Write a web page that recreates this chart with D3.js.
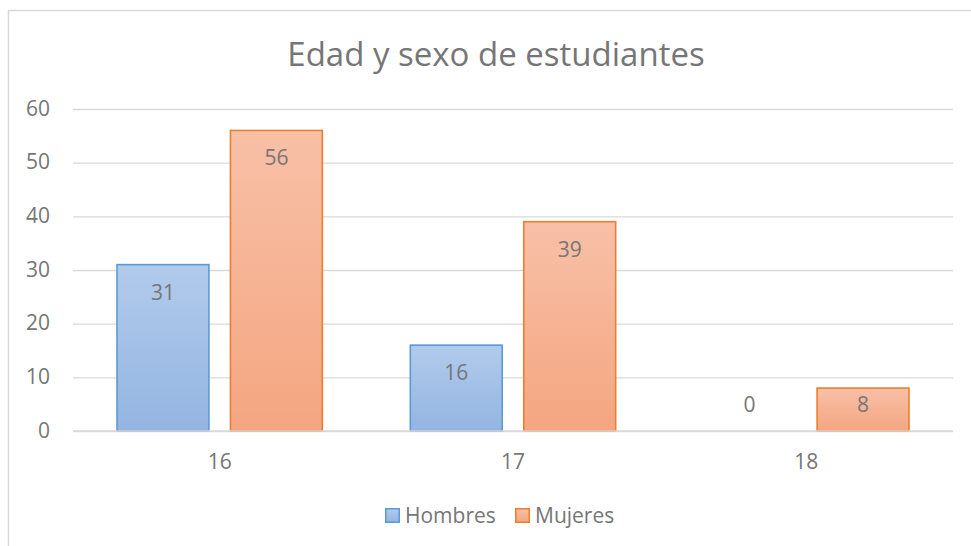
<!DOCTYPE html>
<html>
<head>
<meta charset="utf-8">
<script src="https://cdn.jsdelivr.net/npm/d3@7"></script>
<style>
  body { margin: 0; background: #fff; }
  svg text { font-family: "Open Sans", sans-serif; fill: #767676; }
  .grid line { stroke: #d9d9d9; stroke-width: 1.3; }
  .grid path { display: none; }
</style>
</head>
<body>
<div id="chart"></div>
<script>
var categories = ["16", "17", "18"];
var seriesNames = ["Hombres", "Mujeres"];
var hombres = [31, 16, 0];
var mujeres = [56, 39, 8];
var yTicks = [0, 10, 20, 30, 40, 50, 60];
var chartTitle = "Edad y sexo de estudiantes";

var W = 971, H = 546;
var margin = {top: 109, right: 18, bottom: 115, left: 73},
    width = W - margin.left - margin.right,
    height = H - margin.top - margin.bottom;

var svg = d3.select("#chart").append("svg")
    .attr("width", W)
    .attr("height", H);

// gradients like the Excel fills
var defs = svg.append("defs");
var fills = {
  Hombres: {top: "#b1cbeb", bottom: "#93b5e2", stroke: "#5b9bd5"},
  Mujeres: {top: "#f8c0a7", bottom: "#f4a680", stroke: "#ed7d31"}
};
seriesNames.forEach(function(s) {
  var g = defs.append("linearGradient")
      .attr("id", "grad-" + s)
      .attr("x1", 0).attr("y1", 0).attr("x2", 0).attr("y2", 1);
  g.append("stop").attr("offset", "0%").attr("stop-color", fills[s].top);
  g.append("stop").attr("offset", "100%").attr("stop-color", fills[s].bottom);
});

// chart border (cut off at right and bottom)
svg.append("rect")
    .attr("x", 8.5).attr("y", 10.5)
    .attr("width", 1000).attr("height", 600)
    .attr("fill", "none")
    .attr("stroke", "#d9d9d9")
    .attr("stroke-width", 1.5);

svg.append("text")
    .attr("x", 496)
    .attr("y", 66)
    .attr("text-anchor", "middle")
    .style("font-size", "33px")
    .text(chartTitle);

var g = svg.append("g")
    .attr("transform", "translate(" + margin.left + "," + margin.top + ")");

var x0 = d3.scaleBand()
    .domain(categories)
    .range([0, width])
    .padding(0);

var x1 = d3.scaleBand()
    .domain(seriesNames)
    .range([44, x0.bandwidth() - 44])
    .paddingInner(0.19)
    .paddingOuter(0);

var y = d3.scaleLinear()
    .domain([0, 60])
    .range([height, 0]);

g.append("g")
    .attr("class", "grid")
    .call(d3.axisLeft(y).tickValues(yTicks).tickSize(-width).tickPadding(23))
  .selectAll("text")
    .style("font-size", "21px")
    .attr("dy", "0.3em")
    .attr("fill", "#767676");

g.append("g")
    .attr("class", "xaxis")
    .attr("transform", "translate(0," + height + ")")
    .call(d3.axisBottom(x0).tickSize(0).tickPadding(23))
  .call(function(a) { a.select(".domain").remove(); })
  .selectAll("text")
    .style("font-size", "21px")
    .attr("fill", "#767676");

var rows = categories.map(function(c, i) {
  return {cat: c, values: [
    {name: "Hombres", value: hombres[i]},
    {name: "Mujeres", value: mujeres[i]}
  ]};
});

var groups = g.selectAll(".cat")
    .data(rows)
  .enter().append("g")
    .attr("class", "cat")
    .attr("transform", function(d) { return "translate(" + x0(d.cat) + ",0)"; });

groups.selectAll("rect")
    .data(function(d) { return d.values.filter(function(v) { return v.value > 0; }); })
  .enter().append("rect")
    .attr("x", function(d) { return x1(d.name); })
    .attr("y", function(d) { return y(d.value); })
    .attr("width", x1.bandwidth())
    .attr("height", function(d) { return height - y(d.value); })
    .attr("fill", function(d) { return "url(#grad-" + d.name + ")"; })
    .attr("stroke", function(d) { return fills[d.name].stroke; })
    .attr("stroke-width", 1.6);

groups.selectAll(".val")
    .data(function(d) { return d.values; })
  .enter().append("text")
    .attr("class", "val")
    .attr("x", function(d) { return x1(d.name) + x1.bandwidth() / 2; })
    .attr("y", function(d) { return Math.min(y(d.value) + 35, height - 19); })
    .attr("text-anchor", "middle")
    .style("font-size", "21px")
    .text(function(d) { return d.value; });

// x axis base line
g.append("line")
    .attr("x1", 0).attr("x2", width)
    .attr("y1", height).attr("y2", height)
    .attr("stroke", "#d9d9d9")
    .attr("stroke-width", 1.5);

// legend
var legendX = [385, 515];
var legend = svg.selectAll(".legend")
    .data(seriesNames)
  .enter().append("g")
    .attr("class", "legend")
    .attr("transform", function(d, i) { return "translate(" + legendX[i] + ",508)"; });

legend.append("rect")
    .attr("x", 0.75).attr("y", 0.75)
    .attr("width", 13.5).attr("height", 13.5)
    .attr("fill", function(d) { return "url(#grad-" + d + ")"; })
    .attr("stroke", function(d) { return fills[d].stroke; })
    .attr("stroke-width", 1.5);

legend.append("text")
    .attr("x", 20)
    .attr("y", 14.5)
    .style("font-size", "21px")
    .text(function(d) { return d; });
</script>
</body>
</html>
